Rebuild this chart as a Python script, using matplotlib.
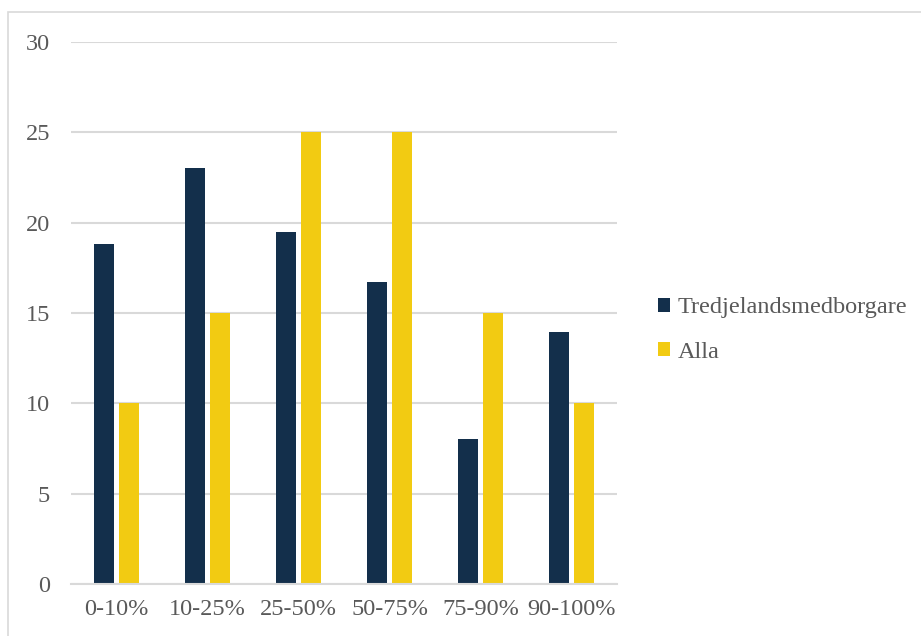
import numpy as np
import matplotlib.pyplot as plt
from matplotlib.patches import Rectangle

categories = ["0-10%", "10-25%", "25-50%", "50-75%", "75-90%", "90-100%"]
tredje = [18.8, 23.0, 19.5, 16.7, 8.0, 13.95]
alla = [10, 15, 25, 25, 15, 10]
yticks = [0, 5, 10, 15, 20, 25, 30]

plt.rcParams['font.family'] = ['Liberation Serif', 'DejaVu Serif']

fig = plt.figure(figsize=(9.21, 6.36), dpi=100)
ax = fig.add_axes([71/921, 1 - 584/636, 546/921, 542/636])

x = np.arange(len(categories))
w = 0.22
ax.bar(x - 0.14, tredje, w, color="#132F4B", label="Tredjelandsmedborgare", zorder=3)
ax.bar(x + 0.14, alla, w, color="#F2CB12", label="Alla", zorder=3)

ax.set_xlim(-0.5, len(categories) - 0.5)
ax.set_ylim(0, 30)
ax.set_yticks(yticks)
ax.set_xticks(x)
ax.set_xticklabels(categories)
ax.yaxis.grid(True, color="#D9D9D9", linewidth=1.5, zorder=0)
ax.tick_params(axis="both", length=0, labelsize=17.5, colors="#595959")
ax.tick_params(axis="y", pad=15)
ax.tick_params(axis="x", pad=11)
for s in ["top", "right", "left"]:
    ax.spines[s].set_visible(False)
ax.spines["bottom"].set_color("#D9D9D9")
ax.spines["bottom"].set_linewidth(1.5)
ax.spines["bottom"].set_zorder(4)

leg = fig.legend(loc="center left", bbox_to_anchor=(636/921, 1 - 330/636),
                 frameon=False, fontsize=17.5, handlelength=0.5, handleheight=0.5,
                 handletextpad=0.3, labelspacing=0.95, labelcolor="#595959")

# outer chart border
fig.patches.append(Rectangle((8/921, -0.1), 1.2, 1 - 12/636 + 0.1, transform=fig.transFigure,
                             fill=False, edgecolor="#D9D9D9", linewidth=1.2))

fig.savefig("out.png", dpi=100)
